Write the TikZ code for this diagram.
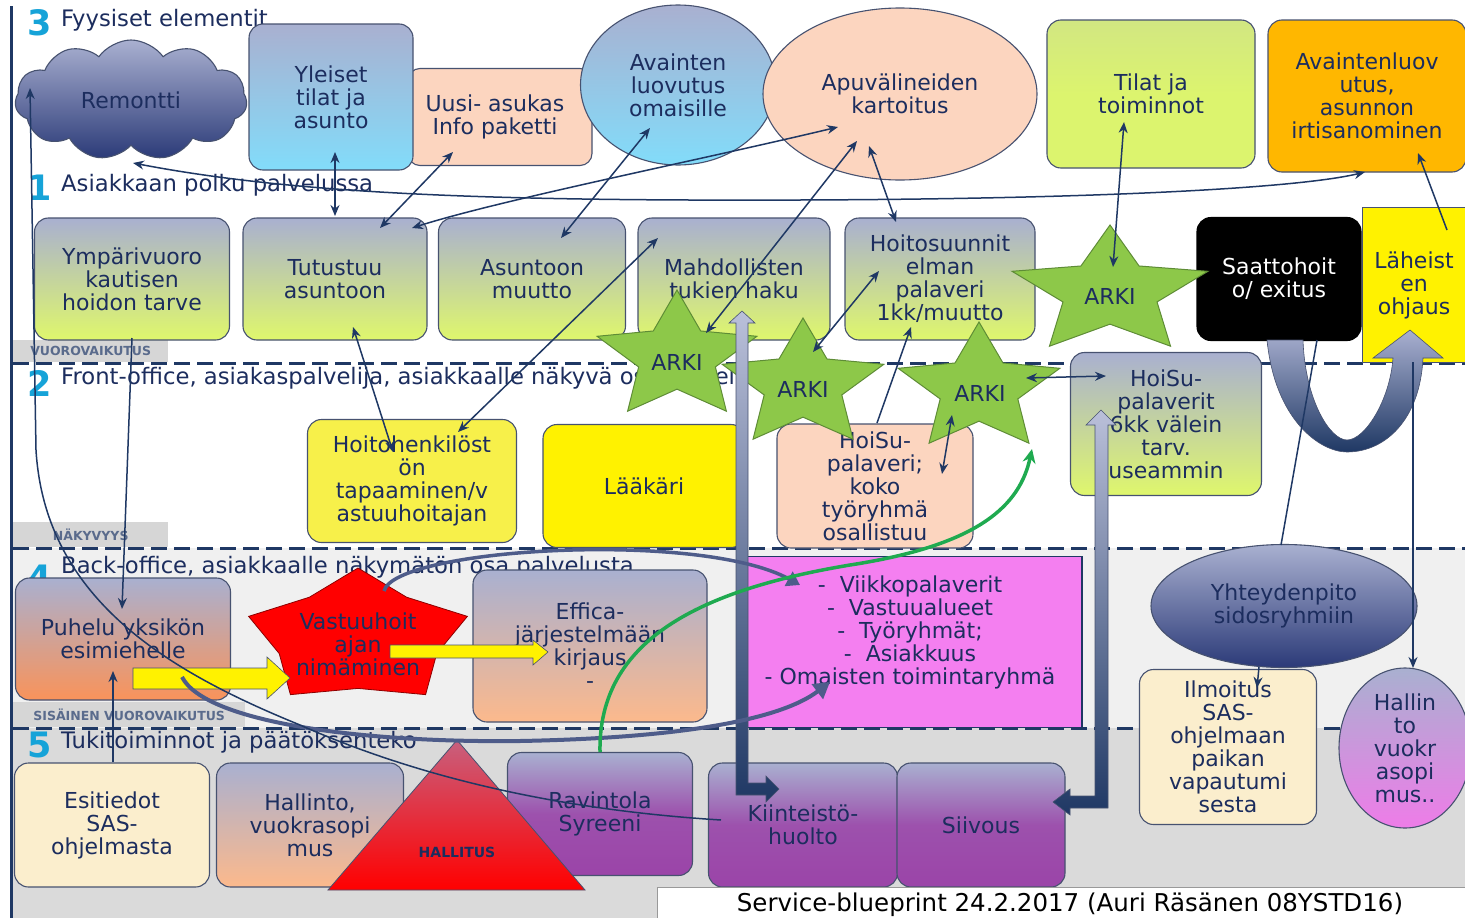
\documentclass[tikz,border=0pt]{standalone}
\usepackage{fontspec}
\setmainfont{DejaVu Sans}
\usetikzlibrary{shapes.symbols,shapes.geometric,arrows.meta}
\definecolor{navy}{HTML}{1F3864}
\definecolor{ntext}{HTML}{1C2D5E}
\definecolor{edge}{HTML}{475270}
\definecolor{lav}{HTML}{A9B0D0}
\definecolor{lime}{HTML}{DFF76C}
\definecolor{peach}{HTML}{FCD5BF}
\definecolor{skyb}{HTML}{82DCFA}
\definecolor{orng}{HTML}{F9935A}
\definecolor{peachb}{HTML}{FCB98C}
\definecolor{purp}{HTML}{9B44A8}
\definecolor{pinkbox}{HTML}{F47FF0}
\definecolor{cream}{HTML}{FBEECD}
\definecolor{yel}{HTML}{F7F04A}
\definecolor{gold}{HTML}{FFB700}
\definecolor{cyanno}{HTML}{16A3D8}
\definecolor{starg}{HTML}{8DC849}
\definecolor{stare}{HTML}{5E8C36}
\definecolor{bandf}{HTML}{F0F0F0}
\definecolor{bandv}{HTML}{DADADA}
\definecolor{lblgrey}{HTML}{D6D6D6}
\definecolor{lbltext}{HTML}{5A6B8C}
\definecolor{greenar}{HTML}{1FAA50}
\definecolor{hpink}{HTML}{EE7CE8}
\definecolor{cloudnavy}{HTML}{2B3A78}
\definecolor{limetwo}{HTML}{DCF46E}
\definecolor{blkarr}{HTML}{4E5C8A}
\definecolor{hallred}{HTML}{C8607E}
\newcommand\bodyfont{\fontsize{22}{23}\selectfont}
\newcommand\headfont{\fontsize{22.7}{24}\selectfont}
\newcommand\capfont{\fontsize{24.5}{26}\selectfont}
\newcommand\numfont{\fontsize{35}{36}\selectfont\bfseries}
\newcommand\lblfont{\fontsize{12.5}{14}\selectfont\bfseries}
\newcommand\drawstar[6]{%
  \draw[#6] ({#1},{#2-#4})
  \foreach \a/\s in {-54/#5,-18/1,18/#5,54/1,90/#5,126/1,162/#5,198/1,234/#5}
  { -- ({#1+\s*#3*cos(\a)},{#2+\s*#4*sin(\a)}) } -- cycle;}
\begin{document}
\begin{tikzpicture}[x=1pt,y=-1pt,
  box/.style={rounded corners=14pt, draw=edge, line width=1.1pt, align=center, text=ntext, font=\bodyfont, inner sep=0pt},
  sqbox/.style={box, rounded corners=0pt},
  oval/.style={ellipse, draw=edge, line width=1.1pt, align=center, text=ntext, font=\bodyfont, inner sep=0pt},
  lavlime/.style={top color=lav, bottom color=lime},
  lavsky/.style={top color=lav, bottom color=skyb},
  lavorng/.style={top color=lav, bottom color=orng},
  lavpeach/.style={top color=lav, bottom color=peachb},
  lavpurp/.style={top color=lav, bottom color=purp, middle color=purp!88!lav},
  lbl/.style={fill=lblgrey, inner sep=0pt, font=\lblfont, text=lbltext, align=center},
  hd/.style={font=\headfont, text=ntext, inner sep=0pt, anchor=base west},
  num/.style={font=\numfont, text=cyanno, inner sep=0pt, anchor=base west},
  dashline/.style={navy, line width=3pt, dash pattern=on 16pt off 7pt},
  conn/.style={draw=navy, line width=1.5pt},
  tip/.tip={Stealth[length=11pt,width=9pt]},
  dbl/.style={conn, tip-tip},
  sgl/.style={conn, -tip},
  arkist/.style={fill=starg, draw=stare, line width=1pt},
  arkitxt/.style={font=\bodyfont, text=ntext, inner sep=0pt}
]
\useasboundingbox (0,0) rectangle (1465,918);
\fill[white] (0,0) rectangle (1465,918);
% bands
\fill[bandf] (12,548) rectangle (1465,728);
\fill[bandv] (12,728) rectangle (1465,918);
\draw[navy, line width=3pt] (11,6) -- (11,918);
% labels
\node[lbl, minimum width=155, minimum height=22, anchor=north west] (lvuoro) at (13,340) {VUOROVAIKUTUS};
\node[lbl, minimum width=155, minimum height=25, anchor=north west] (lnak) at (13,522) {NÄKYVYYS};
\node[lbl, minimum width=232, minimum height=25, anchor=north west] (lsis) at (13,702) {SISÄINEN VUOROVAIKUTUS};
% dashed lines
\draw[dashline] (13,363) -- (1465,363);
\draw[dashline] (13,548) -- (1465,548);
\draw[dashline] (13,728) -- (1465,728);
% headings
\node[num] (n3) at (27,35) {3};
\node[hd] (h3) at (61,26) {Fyysiset elementit};
\node[num] (n1) at (27,200) {1};
\node[hd] (h1) at (61,191) {Asiakkaan polku palvelussa};
\node[num] (n2) at (27,396) {2};
\node[hd] (h2) at (61,384) {Front-office, asiakaspalvelija, asiakkaalle näkyvä osa palvelusta};
\node[num] (n4) at (27,590) {4};
\node[hd] (h4) at (61,573) {Back-office, asiakkaalle näkymätön osa palvelusta};
\node[num] (n5) at (27,757) {5};
\node[hd] (h5) at (61,748) {Tukitoiminnot ja päätöksenteko};
% row 3
\node[sqbox, rounded corners=12pt, fill=peach, minimum width=184, minimum height=97] (uusi) at (500,117) {\hspace*{-10pt}Uusi- asukas\\\hspace*{-10pt}Info paketti};
\node[box, lavsky, minimum width=164, minimum height=146] (yle) at (331,97) {Yleiset\\tilat ja\\asunto};
\node[oval, lavsky, minimum width=195, minimum height=160] (avain) at (678,85) {Avainten\\luovutus\\omaisille};
\node[oval, fill=peach, minimum width=274, minimum height=172] (apu) at (900,94) {Apuvälineiden\\kartoitus};
\node[box, top color=limetwo!80!lav, bottom color=limetwo, middle color=limetwo, minimum width=208, minimum height=148] (tilat) at (1151,94) {Tilat ja\\toiminnot};
\node[box, fill=gold, minimum width=198, minimum height=152] (avl) at (1367,96) {Avaintenluov\\utus,\\asunnon\\irtisanominen};
\node[cloud, cloud puffs=11, cloud puff arc=110, aspect=2.1, minimum width=232, minimum height=120, top color=lav, bottom color=cloudnavy, draw=edge, line width=1.1pt, font=\bodyfont, text=ntext, inner sep=0pt] (rem) at (131,100) {Remontti};
% row 1
\node[box, lavlime, minimum width=195, minimum height=122] (ymp) at (132,279) {Ympärivuoro\\kautisen\\hoidon tarve};
\node[box, lavlime, minimum width=184, minimum height=122] (tut) at (335,279) {Tutustuu\\asuntoon};
\node[box, lavlime, minimum width=187, minimum height=122] (asu) at (532,279) {Asuntoon\\muutto};
\node[box, lavlime, minimum width=192, minimum height=122] (mah) at (734,279) {Mahdollisten\\tukien haku};
\node[box, lavlime, minimum width=190, minimum height=122] (hsu) at (940,279) {Hoitosuunnit\\elman\\palaveri\\1kk/muutto};
\node[box, fill=black, draw=black, text=white, minimum width=164, minimum height=123] (saat) at (1279,279) {Saattohoit\\o/ exitus};
\node[sqbox, fill=yellow, minimum width=103, minimum height=155] (lah) at (1414,285) {Läheist\\en\\ohjaus};
% row 2
\node[box, fill=yel, minimum width=209, minimum height=123] (hhk) at (412,481) {Hoitohenkilöst\\ön\\tapaaminen/v\\astuuhoitajan};
\node[box, fill=yellow, minimum width=202, minimum height=123] (laak) at (644,486) {Lääkäri};
\node[box, fill=peach, minimum width=196, minimum height=124] (hsp) at (875,486) {HoiSu-\\palaveri;\\koko\\työryhmä\\osallistuu};
\node[box, lavlime, minimum width=191, minimum height=143] (hspv) at (1166,424) {HoiSu-\\palaverit\\6kk välein\\tarv.\\useammin};
% row 4
\node[box, lavorng, minimum width=215, minimum height=122] (puh) at (123,639) {Puhelu yksikön\\esimiehelle};
\node[box, lavpeach, minimum width=234, minimum height=152] (eff) at (590,646) {Effica-\\järjestelmään\\kirjaus\\-};
\node[sqbox, fill=pinkbox, draw=navy, line width=1.8pt, minimum width=344, minimum height=171] (pink) at (910,642) {};
\node[font=\bodyfont, text=ntext, align=center, inner sep=0pt] (pinktxt) at (910,632) {-\ \ Viikkopalaverit\\-\ \ Vastuualueet\\-\ \ Työryhmät;\\-\ \ Asiakkuus\\- Omaisten toimintaryhmä};
\node[oval, top color=lav, bottom color=cloudnavy, minimum width=266, minimum height=123] (yht) at (1284,606) {Yhteydenpito\\sidosryhmiin};
\node[box, fill=cream, minimum width=177, minimum height=155] (ilm) at (1228,747) {Ilmoitus\\SAS-\\ohjelmaan\\paikan\\vapautumi\\sesta};
\node[oval, top color=lav, bottom color=hpink, minimum width=132, minimum height=160] (hvk) at (1405,748) {Hallin\\to\\vuokr\\asopi\\mus..};
% row 5
\node[box, fill=cream, minimum width=195, minimum height=124] (esi) at (112,825) {Esitiedot\\SAS-\\ohjelmasta};
\node[box, lavpeach, minimum width=187, minimum height=124] (hal) at (310,825) {Hallinto,\\vuokrasopi\\mus};
\node[box, lavpurp, minimum width=185, minimum height=123] (rav) at (600,814) {Ravintola\\Syreeni};
\node[box, lavpurp, minimum width=189, minimum height=124] (kii) at (803,825) {Kiinteistö-\\huolto};
\node[box, lavpurp, minimum width=168, minimum height=124] (sii) at (981,825) {Siivous};
\shade[top color=hallred, bottom color=red, draw=edge, line width=0.8pt] (457,740) -- (585,890) -- (328,890) -- cycle;
\node[font=\fontsize{14}{16}\selectfont\bfseries, text=ntext, inner sep=0pt] (hallitus) at (457,852) {HALLITUS};
% stars
\drawstar{1110}{292}{103}{67}{0.48}{arkist}
\node[arkitxt] (arki1) at (1110,296) {ARKI};
\drawstar{677}{357}{84}{67}{0.48}{arkist}
\node[arkitxt] (arkia) at (677,362) {ARKI};
\drawstar{803}{385}{85}{67}{0.48}{arkist}
\node[arkitxt] (arkib) at (803,389) {ARKI};
\drawstar{979}{389}{85}{67}{0.48}{arkist}
\node[arkitxt] (arkic) at (980,393) {ARKI};
\drawstar{358}{638}{115}{70}{0.72}{fill=red, draw=red!55!black, line width=0.8pt}
\node[font=\bodyfont, text=ntext, align=center, inner sep=0pt] (vast) at (358,644) {Vastuuhoit\\ajan\\nimäminen};
% block arrows
\draw[fill=yellow, draw=edge, line width=0.6pt] (133,668) -- (267,668) -- (267,657) -- (290,678) -- (267,699) -- (267,689) -- (133,689) -- cycle;
\draw[fill=yellow, draw=edge, line width=0.6pt] (390,645) -- (533,645) -- (533,640) -- (548,652) -- (533,665) -- (533,658) -- (390,658) -- cycle;
\shade[top color=lav!80!white, bottom color=navy, draw=edge, line width=0.6pt]
  (742,311) -- (755,323) -- (748,323) -- (748,783) -- (766,783) -- (766,776) -- (779,789) -- (766,802) -- (766,795) -- (736,795) -- (736,323) -- (729,323) -- cycle;
\shade[top color=lav!80!white, bottom color=navy, draw=edge, line width=0.6pt]
  (1101,410) -- (1116,425) -- (1108,425) -- (1108,808) -- (1070,808) -- (1070,815) -- (1053,802) -- (1070,789) -- (1070,796) -- (1095,796) -- (1095,425) -- (1086,425) -- cycle;
\shade[top color=lav, bottom color=navy, draw=edge, line width=0.6pt]
  (1267,340) .. controls (1275,420) and (1320,452) .. (1347,452) .. controls (1385,452) and (1420,420) .. (1423,358) -- (1443,358) -- (1410,330) -- (1373,358) -- (1393,358) .. controls (1390,400) and (1365,440) .. (1347,440) .. controls (1330,440) and (1305,400) .. (1303,340) -- cycle;
\draw[line width=3.5pt, blkarr, -{Triangle[length=13pt,width=16pt]}] (384,591) .. controls (395,548) and (700,530) .. (800,585);
\draw[line width=4pt, blkarr, -{Triangle[length=16pt,width=18pt]}] (182,677) .. controls (205,722) and (360,743) .. (520,741) .. controls (680,738) and (780,720) .. (830,682);
% connector end points
\coordinate (remb) at (133,163);
\coordinate (avlb) at (1365,172);
\coordinate (yles) at (335,152);
\coordinate (tutn) at (335,216);
\coordinate (uusis) at (453,152);
\coordinate (tutne) at (380,228);
\coordinate (apuw) at (838,127);
\coordinate (tutnee) at (412,228);
\coordinate (avains) at (650,128);
\coordinate (asun) at (561,238);
\coordinate (apusw) at (857,141);
\coordinate (arkian) at (706,333);
\coordinate (apus) at (869,146);
\coordinate (hsun) at (896,222);
\coordinate (tilats) at (1124,122);
\coordinate (arkin) at (1113,267);
\coordinate (lahn) at (1447,230);
\coordinate (avlse) at (1418,153);
\coordinate (tuts) at (353,327);
\coordinate (hhkn) at (393,452);
\coordinate (mahw) at (658,238);
\coordinate (hhkne) at (458,432);
\coordinate (arkibn) at (813,352);
\coordinate (hsusw) at (879,271);
\coordinate (hspn) at (877,423);
\coordinate (hsus) at (911,327);
\coordinate (arkics) at (952,415);
\coordinate (hspne) at (942,474);
\coordinate (arkice) at (1026,378);
\coordinate (hspvw) at (1106,376);
\coordinate (saats) at (1317,340);
\coordinate (yhtn) at (1281,545);
\coordinate (lahs) at (1413,362);
\coordinate (hvkn) at (1413,668);
\coordinate (yhts) at (1259,667);
\coordinate (ilmn) at (1257,688);
\coordinate (ymps) at (132,338);
\coordinate (puhn) at (122,609);
\coordinate (esin) at (113,762);
\coordinate (puhs) at (113,671);
\coordinate (kiiw) at (721,820);
\coordinate (remw) at (30,88);
\coordinate (ravn) at (600,752);
\coordinate (arkicb) at (1032,449);
% connectors
\draw[dbl] (remb) .. controls (300,195) and (500,201) .. (800,200) .. controls (1100,199) and (1300,188) .. (avlb);
\draw[dbl] (yles) -- (tutn);
\draw[dbl] (uusis) -- (tutne);
\draw[dbl] (tutnee) .. controls (500,200) and (700,160) .. (apuw);
\draw[dbl] (avains) -- (asun);
\draw[dbl] (apusw) -- (arkian);
\draw[dbl] (apus) -- (hsun);
\draw[dbl] (tilats) -- (arkin);
\draw[sgl] (lahn) -- (avlse);
\draw[dbl] (tuts) -- (hhkn);
\draw[dbl] (mahw) -- (hhkne);
\draw[dbl] (arkibn) -- (hsusw);
\draw[sgl] (hspn) -- (hsus);
\draw[dbl] (arkics) -- (hspne);
\draw[dbl] (arkice) -- (hspvw);
\draw[conn] (saats) -- (yhtn);
\draw[sgl] (lahs) -- (hvkn);
\draw[sgl] (yhts) -- (ilmn);
\draw[sgl] (ymps) -- (puhn);
\draw[sgl] (esin) -- (puhs);
\draw[sgl] (kiiw) .. controls (560,810) and (420,778) .. (300,725) .. controls (170,672) and (45,600) .. (36,450) -- (remw);
\draw[greenar, line width=3.5pt, -{Stealth[length=14pt,width=13pt]}] (ravn) .. controls (598,640) and (700,590) .. (850,565) .. controls (980,545) and (1020,505) .. (arkicb);
% caption
\draw[fill=white, draw=gray!80, line width=1pt] (657,887) rectangle (1466,919);
\node[font=\capfont, text=black, inner sep=0pt] (cap) at (1070,905) {Service-blueprint 24.2.2017 (Auri Räsänen 08YSTD16)};
\end{tikzpicture}
\end{document}
